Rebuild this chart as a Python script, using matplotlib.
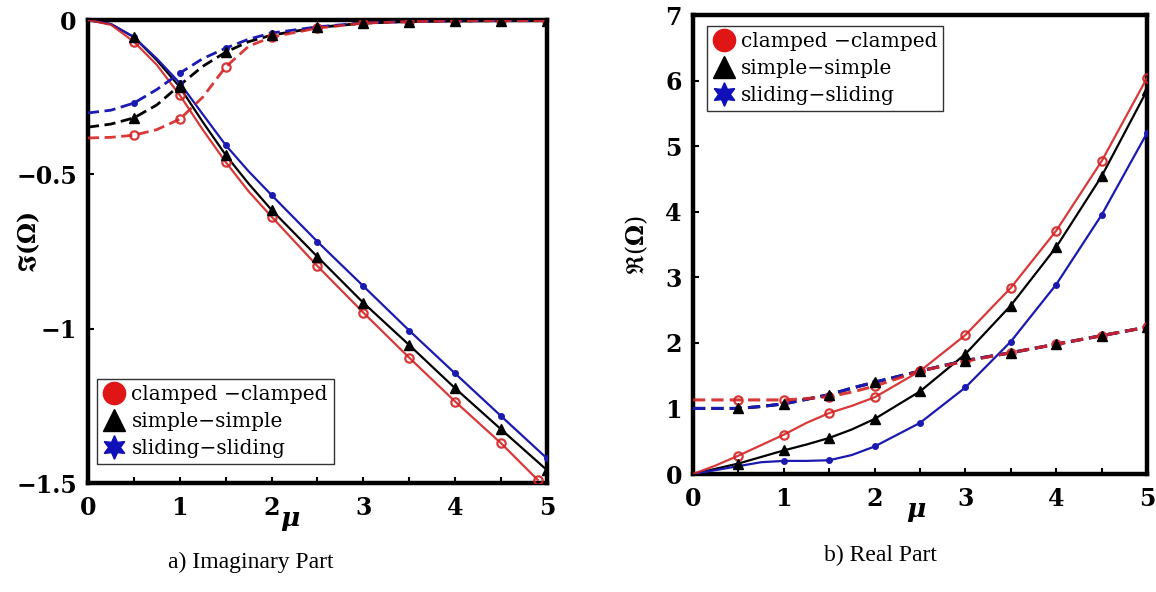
# Imaginary and real parts of Omega against mu for three boundary conditions
import matplotlib
matplotlib.use("Agg")
import matplotlib.pyplot as plt
from matplotlib.lines import Line2D
from matplotlib.ticker import MultipleLocator

# sample points along mu (markers only sit on the 0.5 steps)
mu = [0, 0.25, 0.5, 0.75, 1, 1.25, 1.5, 1.75, 2, 2.5, 3, 3.5, 4, 4.5, 5]
mu_cc_im = [0, 0.25, 0.5, 0.75, 1, 1.25, 1.5, 1.75, 2, 2.5, 3, 3.5, 4, 4.5, 4.9]
mark_idx = [2, 4, 6, 8, 9, 10, 11, 12, 13, 14]

# imaginary part, solid branch
im_cc = [0, -0.015, -0.07, -0.145, -0.243, -0.355, -0.46, -0.555, -0.637, -0.797, -0.948, -1.094, -1.236, -1.371, -1.49]
im_ss = [0, -0.013, -0.055, -0.13, -0.217, -0.33, -0.437, -0.53, -0.615, -0.767, -0.916, -1.053, -1.193, -1.326, -1.458]
im_sl = [0, -0.013, -0.055, -0.125, -0.204, -0.305, -0.405, -0.49, -0.567, -0.718, -0.862, -1.006, -1.145, -1.283, -1.42]
# imaginary part, dashed branch
im_cc_d = [-0.382, -0.38, -0.373, -0.355, -0.321, -0.25, -0.152, -0.085, -0.055, -0.026, -0.01, -0.005, -0.003, -0.002, -0.002]
im_ss_d = [-0.347, -0.337, -0.317, -0.275, -0.211, -0.15, -0.104, -0.07, -0.049, -0.024, -0.01, -0.005, -0.003, -0.002, -0.002]
im_sl_d = [-0.301, -0.292, -0.269, -0.225, -0.172, -0.125, -0.091, -0.062, -0.042, -0.022, -0.009, -0.005, -0.003, -0.002, -0.002]

# real part, solid branch
re_cc = [0, 0.13, 0.28, 0.44, 0.6, 0.78, 0.93, 1.04, 1.17, 1.57, 2.12, 2.84, 3.71, 4.77, 6.04]
re_ss = [0, 0.08, 0.16, 0.26, 0.36, 0.45, 0.55, 0.68, 0.84, 1.26, 1.83, 2.57, 3.46, 4.54, 5.85]
re_sl = [0, 0.06, 0.12, 0.18, 0.2, 0.2, 0.21, 0.29, 0.42, 0.78, 1.32, 2.02, 2.89, 3.95, 5.2]
# real part, dashed branch
re_cc_d = [1.13, 1.13, 1.13, 1.13, 1.13, 1.15, 1.18, 1.25, 1.34, 1.57, 1.72, 1.85, 1.98, 2.11, 2.24]
re_ss_d = [1.0, 1.0, 1.0, 1.03, 1.07, 1.14, 1.21, 1.31, 1.4, 1.57, 1.73, 1.85, 1.98, 2.11, 2.24]
re_sl_d = [1.0, 1.0, 1.0, 1.03, 1.07, 1.14, 1.21, 1.31, 1.4, 1.57, 1.73, 1.85, 1.98, 2.11, 2.24]

labels = ["clamped \u2212clamped", "simple\u2212simple", "sliding\u2212sliding"]
im_ticks = [0, -0.5, -1, -1.5]
im_ticklabels = ["0", "\u22120.5", "\u22121", "\u22121.5"]

RED = "#d42424"
BLACK = "black"
BLUE = "#1a1ab0"
SERIF = "DejaVu Serif"

plt.rcParams["mathtext.fontset"] = "dejavuserif"

fig = plt.figure(figsize=(11.56, 5.92), dpi=100)
ax1 = fig.add_axes([0.0761, 0.1841, 0.397, 0.782])
ax2 = fig.add_axes([0.5995, 0.1993, 0.3927, 0.7753])


def draw_set(ax, x_cc, cc, ss, sl, ls, lw):
    dash = dict(dashes=(4, 2)) if ls == "--" else {}
    # black line first, blue over it, black markers on top
    ax.plot(mu, ss, color=BLACK, lw=lw, zorder=2, **dash)
    ax.plot(mu, sl, color=BLUE, lw=lw, zorder=3, marker="o", ms=4,
            markevery=mark_idx, **dash)
    ax.plot([mu[i] for i in mark_idx], [ss[i] for i in mark_idx], ls="none",
            marker="^", ms=7, color=BLACK, zorder=4)
    ax.plot(x_cc, cc, color=RED, lw=lw, zorder=3, marker="o", ms=6, mfc="none",
            mew=1.6, markevery=mark_idx, alpha=0.9, **dash)


draw_set(ax1, mu_cc_im, im_cc, im_ss, im_sl, "-", 1.6)
draw_set(ax1, mu, im_cc_d, im_ss_d, im_sl_d, "--", 2.0)
draw_set(ax2, mu, re_cc, re_ss, re_sl, "-", 1.6)
draw_set(ax2, mu, re_cc_d, re_ss_d, re_sl_d, "--", 2.2)

ax1.set_xlim(0, 5)
ax1.set_ylim(-1.5, 0)
ax1.set_yticks(im_ticks)
ax1.set_yticklabels(im_ticklabels)
ax2.set_xlim(0, 5)
ax2.set_ylim(0, 7)
ax2.set_yticks(range(0, 8))

for ax in (ax1, ax2):
    for sp in ax.spines.values():
        sp.set_linewidth(3.2)
    ax.set_xticks(range(0, 6))
    ax.xaxis.set_minor_locator(MultipleLocator(0.5))
    ax.tick_params(which="both", direction="in", length=4, width=1.5,
                   top=False, right=False)
    ax.tick_params(axis="x", which="major", pad=9)
    ax.tick_params(axis="y", which="major", pad=8)
    for t in ax.get_xticklabels() + ax.get_yticklabels():
        t.set_fontfamily(SERIF)
        t.set_fontweight("bold")
        t.set_fontsize(17)

    handles = [
        Line2D([], [], ls="none", marker="o", ms=16, color="#e01515"),
        Line2D([], [], ls="none", marker="^", ms=16, color=BLACK),
        Line2D([], [], ls="none", marker=(6, 1, 0), ms=17, color="#1010b8"),
    ]
    leg_loc = "lower left" if ax is ax1 else "upper left"
    leg_anchor = (0.02, 0.04) if ax is ax1 else (0.03, 0.977)
    leg = ax.legend(handles, labels, loc=leg_loc, bbox_to_anchor=leg_anchor,
                    prop={"family": SERIF, "size": 14.5}, fancybox=False,
                    edgecolor="#333333", framealpha=1, handletextpad=0.3,
                    borderpad=0.3, labelspacing=0.4, handlelength=1.1,
                    borderaxespad=0)
    leg.get_frame().set_linewidth(1.0)

    ax.set_xlabel("\u03bc", fontfamily=SERIF, fontweight="bold",
                  fontstyle="italic", fontsize=19)

ax1.xaxis.set_label_coords(0.44, -0.05)
ax2.xaxis.set_label_coords(0.49, -0.05)

ax1.set_ylabel(r"$\mathbf{\Im(\Omega)}$", fontsize=17)
ax1.yaxis.set_label_coords(-0.1, 0.52)
ax2.set_ylabel(r"$\Re(\mathbf{\Omega})$", fontsize=17)
ax2.yaxis.set_label_coords(-0.095, 0.5)

# captions under each panel
fig.text(0.2165, 0.05, "a) Imaginary Part", ha="center", va="center",
         fontfamily="Liberation Serif", fontsize=17)
fig.text(0.7615, 0.062, "b) Real Part", ha="center", va="center",
         fontfamily="Liberation Serif", fontsize=17)

fig.savefig("out.png", dpi=100)
